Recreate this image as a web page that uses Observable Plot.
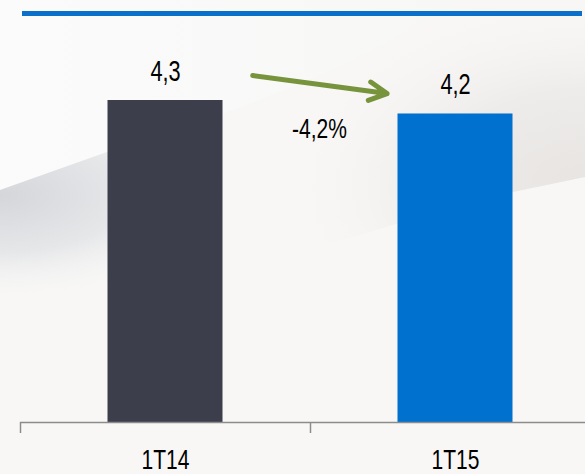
<!DOCTYPE html>
<html>
<head>
<meta charset="utf-8">
<script src="https://cdn.jsdelivr.net/npm/d3@7"></script>
<script src="https://cdn.jsdelivr.net/npm/@observablehq/plot@0.6"></script>
<style>
  html, body { margin: 0; padding: 0; }
  #chart {
    position: relative;
    width: 585px; height: 474px; overflow: hidden;
    font-family: "Liberation Sans", sans-serif;
    background: #f8f7f6;
  }
  #bg { position: absolute; left: 0; top: 0; }
  #topline { position: absolute; left: 22px; top: 11px; width: 560px; height: 5px; background: #0a70c9; }
  #plot { position: absolute; left: 0; top: 20px; }
  #plot svg { background: transparent !important; }
</style>
</head>
<body>
<div id="chart">
  <svg id="bg" width="585" height="474" xmlns="http://www.w3.org/2000/svg">
    <defs>
      <radialGradient id="gl" gradientUnits="userSpaceOnUse" cx="0" cy="195" r="1" gradientTransform="translate(0,195) scale(230,105) translate(0,-195)">
        <stop offset="0" stop-color="#d4d6da"/>
        <stop offset="0.55" stop-color="#e6e7e9"/>
        <stop offset="1" stop-color="#f6f6f5" stop-opacity="0"/>
      </radialGradient>
      <radialGradient id="gr" gradientUnits="userSpaceOnUse" cx="585" cy="185" r="1" gradientTransform="translate(585,185) scale(300,190) translate(-585,-185)">
        <stop offset="0" stop-color="#e7e4e2"/>
        <stop offset="0.5" stop-color="#eeecea"/>
        <stop offset="1" stop-color="#f7f6f5" stop-opacity="0"/>
      </radialGradient>
      <linearGradient id="gw" x1="0" y1="0" x2="1" y2="0">
        <stop offset="0" stop-color="#fbfbfb"/>
        <stop offset="1" stop-color="#f7f7f6"/>
      </linearGradient>
    </defs>
    <path d="M0,0 H460 Q330,85 107,152 L0,190 Z" fill="url(#gw)"/>
    <path d="M0,190 L107,152 Q210,120 280,90 L280,320 L0,320 Z" fill="url(#gl)"/>
    <path d="M250,0 H585 V177 L513,192 Q420,214 250,270 Z" fill="url(#gr)"/>
  </svg>
  <div id="topline"></div>
  <div id="plot"></div>
</div>
<script>
const periods = ["1T14", "1T15"];
const values = [4.3, 4.12];
const valueLabels = ["4,3", "4,2"];
const barColors = ["#3c3e4c", "#0071cf"];
const changeLabel = "-4,2%";
const arrowFrom = "1T14", arrowTo = "1T15";
const arrowY1 = 4.79, arrowY2 = 4.27;
const changeLabelY = 3.80;

const data = periods.map((p, i) => ({period: p, value: values[i], label: valueLabels[i]}));

const plot = Plot.plot({
  width: 585,
  height: 454,
  marginLeft: 0,
  marginRight: 0,
  marginTop: 80,
  marginBottom: 52,
  style: {fontFamily: "'Liberation Sans', sans-serif", background: "transparent", color: "#000"},
  x: {domain: periods, range: [20, 600], padding: 0},
  y: {domain: [0, 4.3], axis: null},
  color: {domain: periods, range: barColors},
  marks: [
    Plot.barY(data, {x: "period", y: "value", fill: "period", insetLeft: 87.5, insetRight: 87.5}),
    Plot.ruleY([0], {stroke: "#8c8c8c", strokeWidth: 1.5, insetLeft: 20}),
    Plot.axisX({tickSize: 11, tickFormat: () => "", dx: -145, stroke: "#8c8c8c", strokeWidth: 1.5}),
    Plot.axisX({tickSize: 0, tickPadding: 27, fontSize: 28, fill: "#000"}),
    Plot.text(data, {x: "period", y: "value", text: "label", dy: -20, lineAnchor: "bottom", fontSize: 29, fill: "#000"}),
    Plot.arrow([{from: arrowFrom, to: arrowTo, y1: arrowY1, y2: arrowY2}], {
      x1: "from", x2: "to", y1: "y1", y2: "y2",
      insetStart: 88, insetEnd: 69, stroke: "#77933c", strokeWidth: 5, headLength: 6, headAngle: 55
    }),
    Plot.text([changeLabel], {x: () => arrowFrom, y: () => changeLabelY, text: d => d, dx: 154, fontSize: 28, fill: "#000", lineAnchor: "bottom"})
  ]
});
document.getElementById("plot").appendChild(plot);
// condense glyphs to mimic the narrow typeface of the reference
plot.querySelectorAll("text").forEach(t => {
  const w = t.getComputedTextLength();
  if (w > 0) {
    t.setAttribute("textLength", (w * 0.75).toFixed(1));
    t.setAttribute("lengthAdjust", "spacingAndGlyphs");
  }
});
</script>
</body>
</html>
